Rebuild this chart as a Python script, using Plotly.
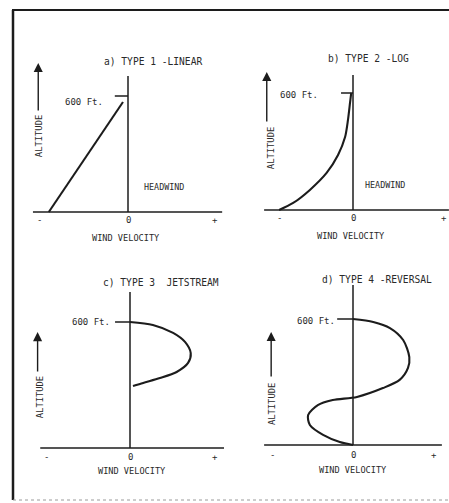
import plotly.graph_objects as go

# Wind-shear profile types: wind velocity (relative units, - / 0 / +) vs altitude (ft)

# a) Type 1 - linear
LINEAR_ALT = [0, 569]
LINEAR_VEL = [-0.90, -0.057]

# b) Type 2 - logarithmic
LOG_ALT = [0, 36, 103, 190, 282, 374, 462, 549, 590, 600]
LOG_VEL = [-0.84, -0.68, -0.49, -0.30, -0.17, -0.09, -0.057, -0.034, -0.023, -0.02]

# c) Type 3 - jetstream
JET_ALT = [600, 586, 548, 505, 452, 405, 362, 333, 310, 295]
JET_VEL = [0.0, 0.26, 0.49, 0.625, 0.69, 0.66, 0.53, 0.34, 0.15, 0.034]

# d) Type 4 - reversal
REV_ALT = [600, 586, 557, 500, 419, 367, 310, 271, 229, 214, 190, 143, 95, 48, 14, 0]
REV_VEL = [0.0, 0.23, 0.42, 0.57, 0.64, 0.625, 0.53, 0.34, 0.045, -0.23, -0.40, -0.51,
           -0.49, -0.34, -0.15, 0.0]

TITLES = ["a) TYPE 1 -LINEAR", "b) TYPE 2 -LOG", "c) TYPE 3  JETSTREAM", "d) TYPE 4 -REVERSAL"]
TICK_TEXT = ["-", "0", "+"]
TOP_LABEL = "600 Ft."
X_LABEL = "WIND VELOCITY"
Y_LABEL = "ALTITUDE"
SIDE_NOTE = "HEADWIND"

W, H = 449, 503
SX = 88.0  # px per velocity unit
INK = "#1c1c1c"
FONT = "DejaVu Sans Mono"

# per-panel layout: pixel box, origin pixel, px per 600 ft, and element placement (data units)
PANELS = [
    dict(box=(0, 224, 0, 250), origin=(128, 212), sy=116,
         curve=(LINEAR_VEL, LINEAR_ALT, "linear"),
         haxis=(-1.08, 1.07), vtop=703, tick=(-0.15, 600),
         title=(0.28, 776), top=(-0.50, 569), note=(0.41, 129),
         xlab=(-0.02, -134), ylab=(-1.01, 393), arrow=(-1.02, 517, 771),
         ticks=([-1.01, 0, 0.99], -41)),
    dict(box=(224, 449, 0, 250), origin=(353, 210), sy=117,
         curve=(LOG_VEL, LOG_ALT, "spline"),
         haxis=(-1.01, 1.09), vtop=692, tick=(-0.136, 600),
         title=(0.18, 779), top=(-0.61, 590), note=(0.36, 128),
         xlab=(-0.02, -133), ylab=(-0.93, 318), arrow=(-0.98, 446, 708),
         ticks=([-0.84, 0, 1.03], -41)),
    dict(box=(0, 224, 250, 503), origin=(130, 448), sy=126,
         curve=(JET_VEL, JET_ALT, "spline"),
         haxis=(-1.02, 1.08), vtop=743, tick=(-0.17, 600),
         title=(0.35, 790), top=(-0.44, 600), note=None,
         xlab=(0.02, -110), ylab=(-1.02, 243), arrow=(-1.05, 357, 552),
         ticks=([-0.95, 0, 0.97], -43)),
    dict(box=(224, 449, 250, 503), origin=(353, 445), sy=126,
         curve=(REV_VEL, REV_ALT, "spline"),
         haxis=(-1.01, 1.01), vtop=762, tick=(-0.18, 600),
         title=(0.27, 790), top=(-0.42, 590), note=None,
         xlab=(0.0, -119), ylab=(-0.92, 195), arrow=(-0.93, 319, 538),
         ticks=([-0.92, 0, 0.92], -48)),
]

fig = go.Figure()
shapes, annos = [], []
layout = {}

for i, p in enumerate(PANELS, start=1):
    x0, x1, y0, y1 = p["box"]
    ox, oy = p["origin"]
    ft_per_px = 600.0 / p["sy"]
    xr = [(x0 - ox) / SX, (x1 - ox) / SX]
    yr = [(oy - y1) * ft_per_px, (oy - y0) * ft_per_px]
    sfx = "" if i == 1 else str(i)
    xa, ya = "x" + sfx, "y" + sfx
    layout["xaxis" + sfx] = dict(domain=[x0 / W, x1 / W], range=xr, visible=False,
                                 anchor=ya, fixedrange=True)
    layout["yaxis" + sfx] = dict(domain=[1 - y1 / H, 1 - y0 / H], range=yr, visible=False,
                                 anchor=xa, fixedrange=True)

    vel, alt, shape = p["curve"]
    fig.add_trace(go.Scatter(x=vel, y=alt, mode="lines", xaxis=xa, yaxis=ya,
                             line=dict(color=INK, width=2.1, shape=shape, smoothing=0.8),
                             hoverinfo="skip", showlegend=False))

    # axes, 600 ft marker
    shapes.append(dict(type="line", xref=xa, yref=ya, x0=p["haxis"][0], x1=p["haxis"][1],
                       y0=0, y1=0, line=dict(color=INK, width=1.6)))
    shapes.append(dict(type="line", xref=xa, yref=ya, x0=0, x1=0, y0=0, y1=p["vtop"],
                       line=dict(color=INK, width=1.5)))
    shapes.append(dict(type="line", xref=xa, yref=ya, x0=p["tick"][0], x1=0,
                       y0=p["tick"][1], y1=p["tick"][1], line=dict(color=INK, width=1.5)))

    def txt(pos, text, size=8.6, angle=0):
        annos.append(dict(xref=xa, yref=ya, x=pos[0], y=pos[1], text=text, showarrow=False,
                          textangle=angle, xanchor="center", yanchor="middle",
                          font=dict(family=FONT, size=size, color="#2a2a2a")))

    txt(p["title"], TITLES[i - 1], size=9.6)
    txt(p["top"], TOP_LABEL, size=9)
    if p["note"]:
        txt(p["note"], SIDE_NOTE, size=8.4)
    txt(p["xlab"], X_LABEL, size=8.6)
    txt(p["ylab"], Y_LABEL, size=8.8, angle=-90)
    tv, ty = p["ticks"]
    for v, t in zip(tv, TICK_TEXT):
        txt((v, ty), t, size=9)

    ax_v, a_from, a_to = p["arrow"]
    annos.append(dict(xref=xa, yref=ya, axref=xa, ayref=ya, x=ax_v, y=a_to, ax=ax_v, ay=a_from,
                      text="", showarrow=True, arrowhead=2, arrowsize=1.3, arrowwidth=1.4,
                      arrowcolor=INK))

# page frame
shapes += [
    dict(type="line", xref="paper", yref="paper", x0=12 / W, x1=1, y0=1 - 10 / H, y1=1 - 10 / H,
         line=dict(color=INK, width=2)),
    dict(type="line", xref="paper", yref="paper", x0=13 / W, x1=13 / W, y0=1 - 10 / H,
         y1=1 - 500 / H, line=dict(color=INK, width=2.5)),
    dict(type="line", xref="paper", yref="paper", x0=13 / W, x1=1, y0=1 - 500 / H,
         y1=1 - 500 / H, line=dict(color="#9a9a9a", width=1, dash="dot")),
]

fig.update_layout(width=W, height=H, margin=dict(l=0, r=0, t=0, b=0),
                  paper_bgcolor="white", plot_bgcolor="rgba(0,0,0,0)",
                  shapes=shapes, annotations=annos, **layout)
fig.write_html("out.html", config={"displayModeBar": False})
